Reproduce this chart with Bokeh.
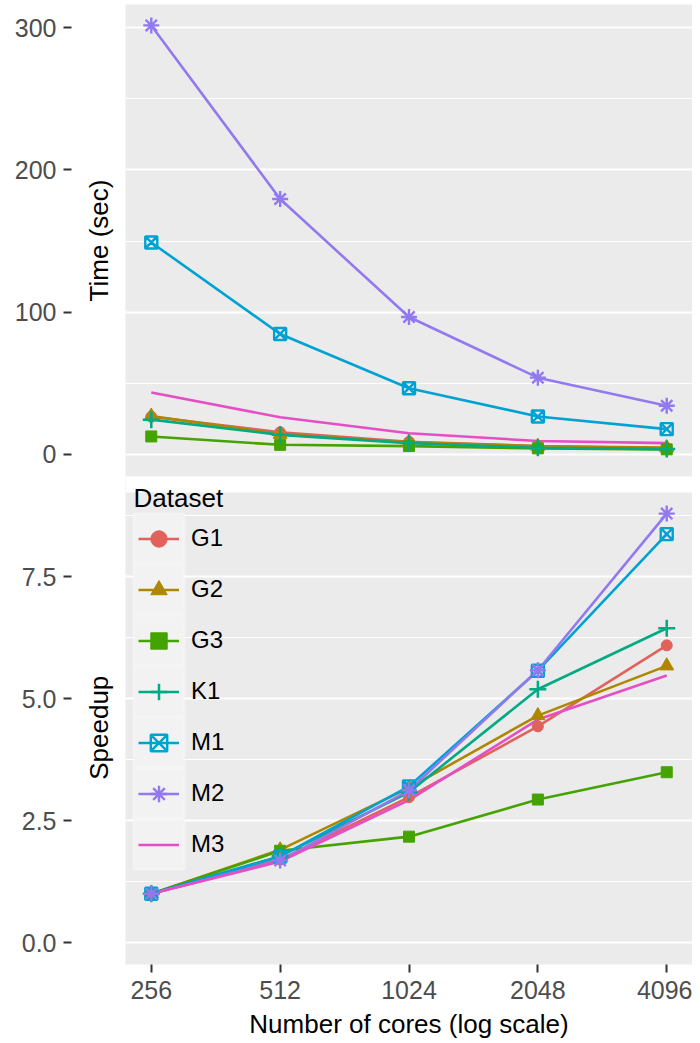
from bokeh.plotting import figure
from bokeh.layouts import column
from bokeh.models import (Range1d, LinearAxis, FixedTicker, Legend, LegendItem, Label,
                          BoxAnnotation, ColumnDataSource, NumeralTickFormatter)
from bokeh.embed import file_html
from bokeh.resources import INLINE

# ---------------- data ----------------
cores = [256, 512, 1024, 2048, 4096]
datasets = ["G1", "G2", "G3", "K1", "M1", "M2", "M3"]

time_G1 = [26.5, 15.6, 8.9, 6.0, 4.4]
time_G2 = [27.0, 14.2, 8.5, 5.8, 4.8]
time_G3 = [12.7, 6.8, 5.9, 4.3, 3.6]
time_K1 = [24.5, 13.8, 8.0, 4.7, 3.8]
time_M1 = [149.0, 84.7, 46.6, 26.7, 17.8]
time_M2 = [301.5, 179.5, 96.6, 54.0, 34.3]
time_M3 = [43.5, 26.2, 14.9, 9.5, 8.0]

speedup_G1 = [1.0, 1.70, 2.98, 4.43, 6.09]
speedup_G2 = [1.0, 1.90, 3.17, 4.65, 5.67]
speedup_G3 = [1.0, 1.88, 2.17, 2.93, 3.49]
speedup_K1 = [1.0, 1.77, 3.08, 5.19, 6.44]
speedup_M1 = [1.0, 1.76, 3.20, 5.57, 8.37]
speedup_M2 = [1.0, 1.68, 3.12, 5.58, 8.79]
speedup_M3 = [1.0, 1.66, 2.92, 4.57, 5.47]

time_series = [time_G1, time_G2, time_G3, time_K1, time_M1, time_M2, time_M3]
speedup_series = [speedup_G1, speedup_G2, speedup_G3, speedup_K1,
                  speedup_M1, speedup_M2, speedup_M3]

time_ticks = [0, 100, 200, 300]
speedup_ticks = [0, 2.5, 5.0, 7.5]

# ---------------- style ----------------
colors = ["#E0625A", "#AE8700", "#45A300", "#00AA82", "#00A2D4", "#9379F0", "#E54EC4"]
markers = [
    dict(marker="circle", size=11, fill=True, lw=1),
    dict(marker="triangle", size=14, fill=True, lw=1),
    dict(marker="square", size=11, fill=True, lw=1),
    dict(marker="cross", size=17, fill=False, lw=2.5),
    dict(marker="square_x", size=12, fill=False, lw=2.4),
    dict(marker="asterisk", size=16, fill=False, lw=2.4),
    None,
]

FONT = "Liberation Sans"
PANEL_BG = "#EBEBEB"
TICK_COL = "#333333"
TICKLAB_COL = "#4D4D4D"
FRAME_W = 567
LEFT_BORDER = 125
X_LO, X_HI = 2 ** 7.8, 2 ** 12.2


def make_fig(frame_h, y_lo, y_hi, top_border, show_x):
    p = figure(frame_width=FRAME_W, frame_height=frame_h, x_axis_type="log",
               x_range=Range1d(X_LO, X_HI), y_range=Range1d(y_lo, y_hi),
               x_axis_location="below" if show_x else None,
               output_backend="svg", toolbar_location=None,
               min_border_left=LEFT_BORDER, min_border_right=0,
               min_border_top=top_border, min_border_bottom=0)
    p.background_fill_color = PANEL_BG
    p.border_fill_color = "white"
    p.outline_line_color = None
    p.xgrid.visible = False
    return p


def style_y(p, title, ticks, fmt):
    step = ticks[1] - ticks[0]
    p.ygrid.ticker = FixedTicker(ticks=ticks, minor_ticks=[t + step / 2 for t in ticks])
    p.ygrid.grid_line_color = "white"
    p.ygrid.grid_line_width = 2
    p.ygrid.minor_grid_line_color = "white"
    p.ygrid.minor_grid_line_width = 1
    # inner axis: title only
    ta = p.yaxis[0]
    ta.ticker = FixedTicker(ticks=[])
    ta.axis_label = title
    ta.axis_label_text_font = FONT
    ta.axis_label_text_font_size = "26px"
    ta.axis_label_text_font_style = "normal"
    ta.axis_label_text_color = "black"
    ta.axis_label_standoff = 12
    ta.axis_line_color = None
    ta.major_tick_out = 0
    ta.major_tick_in = 0
    ta.minor_tick_line_color = None
    # outer axis: ticks + labels
    ax = LinearAxis(ticker=FixedTicker(ticks=ticks), formatter=NumeralTickFormatter(format=fmt),
                    axis_line_color=None, major_tick_in=-9, major_tick_out=17,
                    major_tick_line_color=TICK_COL, major_tick_line_width=2,
                    minor_tick_line_color=None, major_label_standoff=7,
                    major_label_text_font=FONT, major_label_text_font_size="25px",
                    major_label_text_color=TICKLAB_COL)
    p.add_layout(ax, "left")


def draw(p, series):
    srcs = [ColumnDataSource(dict(x=cores, y=ys)) for ys in series]
    lines, pts = [], []
    for src, col in zip(srcs, colors):
        lines.append(p.line("x", "y", source=src, line_color=col, line_width=2.6))
    for src, col, m in zip(srcs, colors, markers):
        if m is None:
            pts.append(None)
            continue
        pts.append(p.scatter("x", "y", source=src, marker=m["marker"], size=m["size"],
                             fill_color=col if m["fill"] else None, line_color=col,
                             line_width=m["lw"]))
    return lines, pts


# ---------------- top: time ----------------
TOP_H = 472
top = make_fig(TOP_H, -15.46, 316.2, 4, False)
style_y(top, "Time (sec)", time_ticks, "0")
draw(top, time_series)

# ---------------- bottom: speedup ----------------
# the frame includes a 16px white strip at its top (gap between the panels),
# so that the legend title can overlap the gap as in the reference
GAP_STRIP = 16
BOT_H = 472 + GAP_STRIP
bot = make_fig(BOT_H, -0.45, 9.55, 0, True)
style_y(bot, "Speedup\u00a0\u00a0", speedup_ticks, "0.0")
bot.add_layout(BoxAnnotation(top=BOT_H, bottom=BOT_H - GAP_STRIP,
                             top_units="screen", bottom_units="screen",
                             fill_color="white", fill_alpha=1, line_color=None))

xa = bot.xaxis[0]
xa.ticker = FixedTicker(ticks=cores)
xa.formatter = NumeralTickFormatter(format="0")
xa.axis_line_color = None
xa.major_tick_out = 8
xa.major_tick_in = 0
xa.major_tick_line_color = TICK_COL
xa.major_tick_line_width = 2
xa.minor_tick_line_color = None
xa.major_label_standoff = 8
xa.major_label_text_font = FONT
xa.major_label_text_font_size = "25px"
xa.major_label_text_color = TICKLAB_COL
xa.axis_label = "Number of cores (log scale)"
xa.axis_label_text_font = FONT
xa.axis_label_text_font_size = "26px"
xa.axis_label_text_font_style = "normal"
xa.axis_label_text_color = "black"
xa.axis_label_standoff = 7

lines, pts = draw(bot, speedup_series)

# legend key backgrounds (screen units relative to frame)
KEY_TOP = 25.5 + GAP_STRIP
GLYPH = 41
GAP = 10
KEY_PAD = 4.5
for i in range(len(datasets)):
    gtop = KEY_TOP + i * (GLYPH + GAP)
    bot.add_layout(BoxAnnotation(
        left=8, right=59,
        top=BOT_H - (gtop - KEY_PAD), bottom=BOT_H - (gtop + GLYPH + KEY_PAD),
        left_units="screen", right_units="screen", top_units="screen", bottom_units="screen",
        fill_color="#F2F2F2", fill_alpha=1, line_color="white", line_width=2.2))

bot.add_layout(Label(x=8, y=BOT_H - 21, x_units="screen", y_units="screen",
                     text="Dataset", text_font=FONT, text_font_size="26px",
                     text_color="black", text_baseline="alphabetic", text_align="left"))

items = []
for name, l, pt in zip(datasets, lines, pts):
    items.append(LegendItem(label=name, renderers=[l] + ([pt] if pt is not None else [])))

legend = Legend(items=items, location=(13, BOT_H - (KEY_TOP + 7 * GLYPH + 6 * GAP)),
                label_text_font=FONT, label_text_font_size="24px", label_text_color="black",
                label_standoff=12, glyph_width=GLYPH, glyph_height=GLYPH, spacing=GAP,
                padding=0, margin=0, border_line_color=None, background_fill_alpha=0)
bot.add_layout(legend)

layout = column(top, bot)
open("out.html", "w").write(file_html(layout, INLINE))
